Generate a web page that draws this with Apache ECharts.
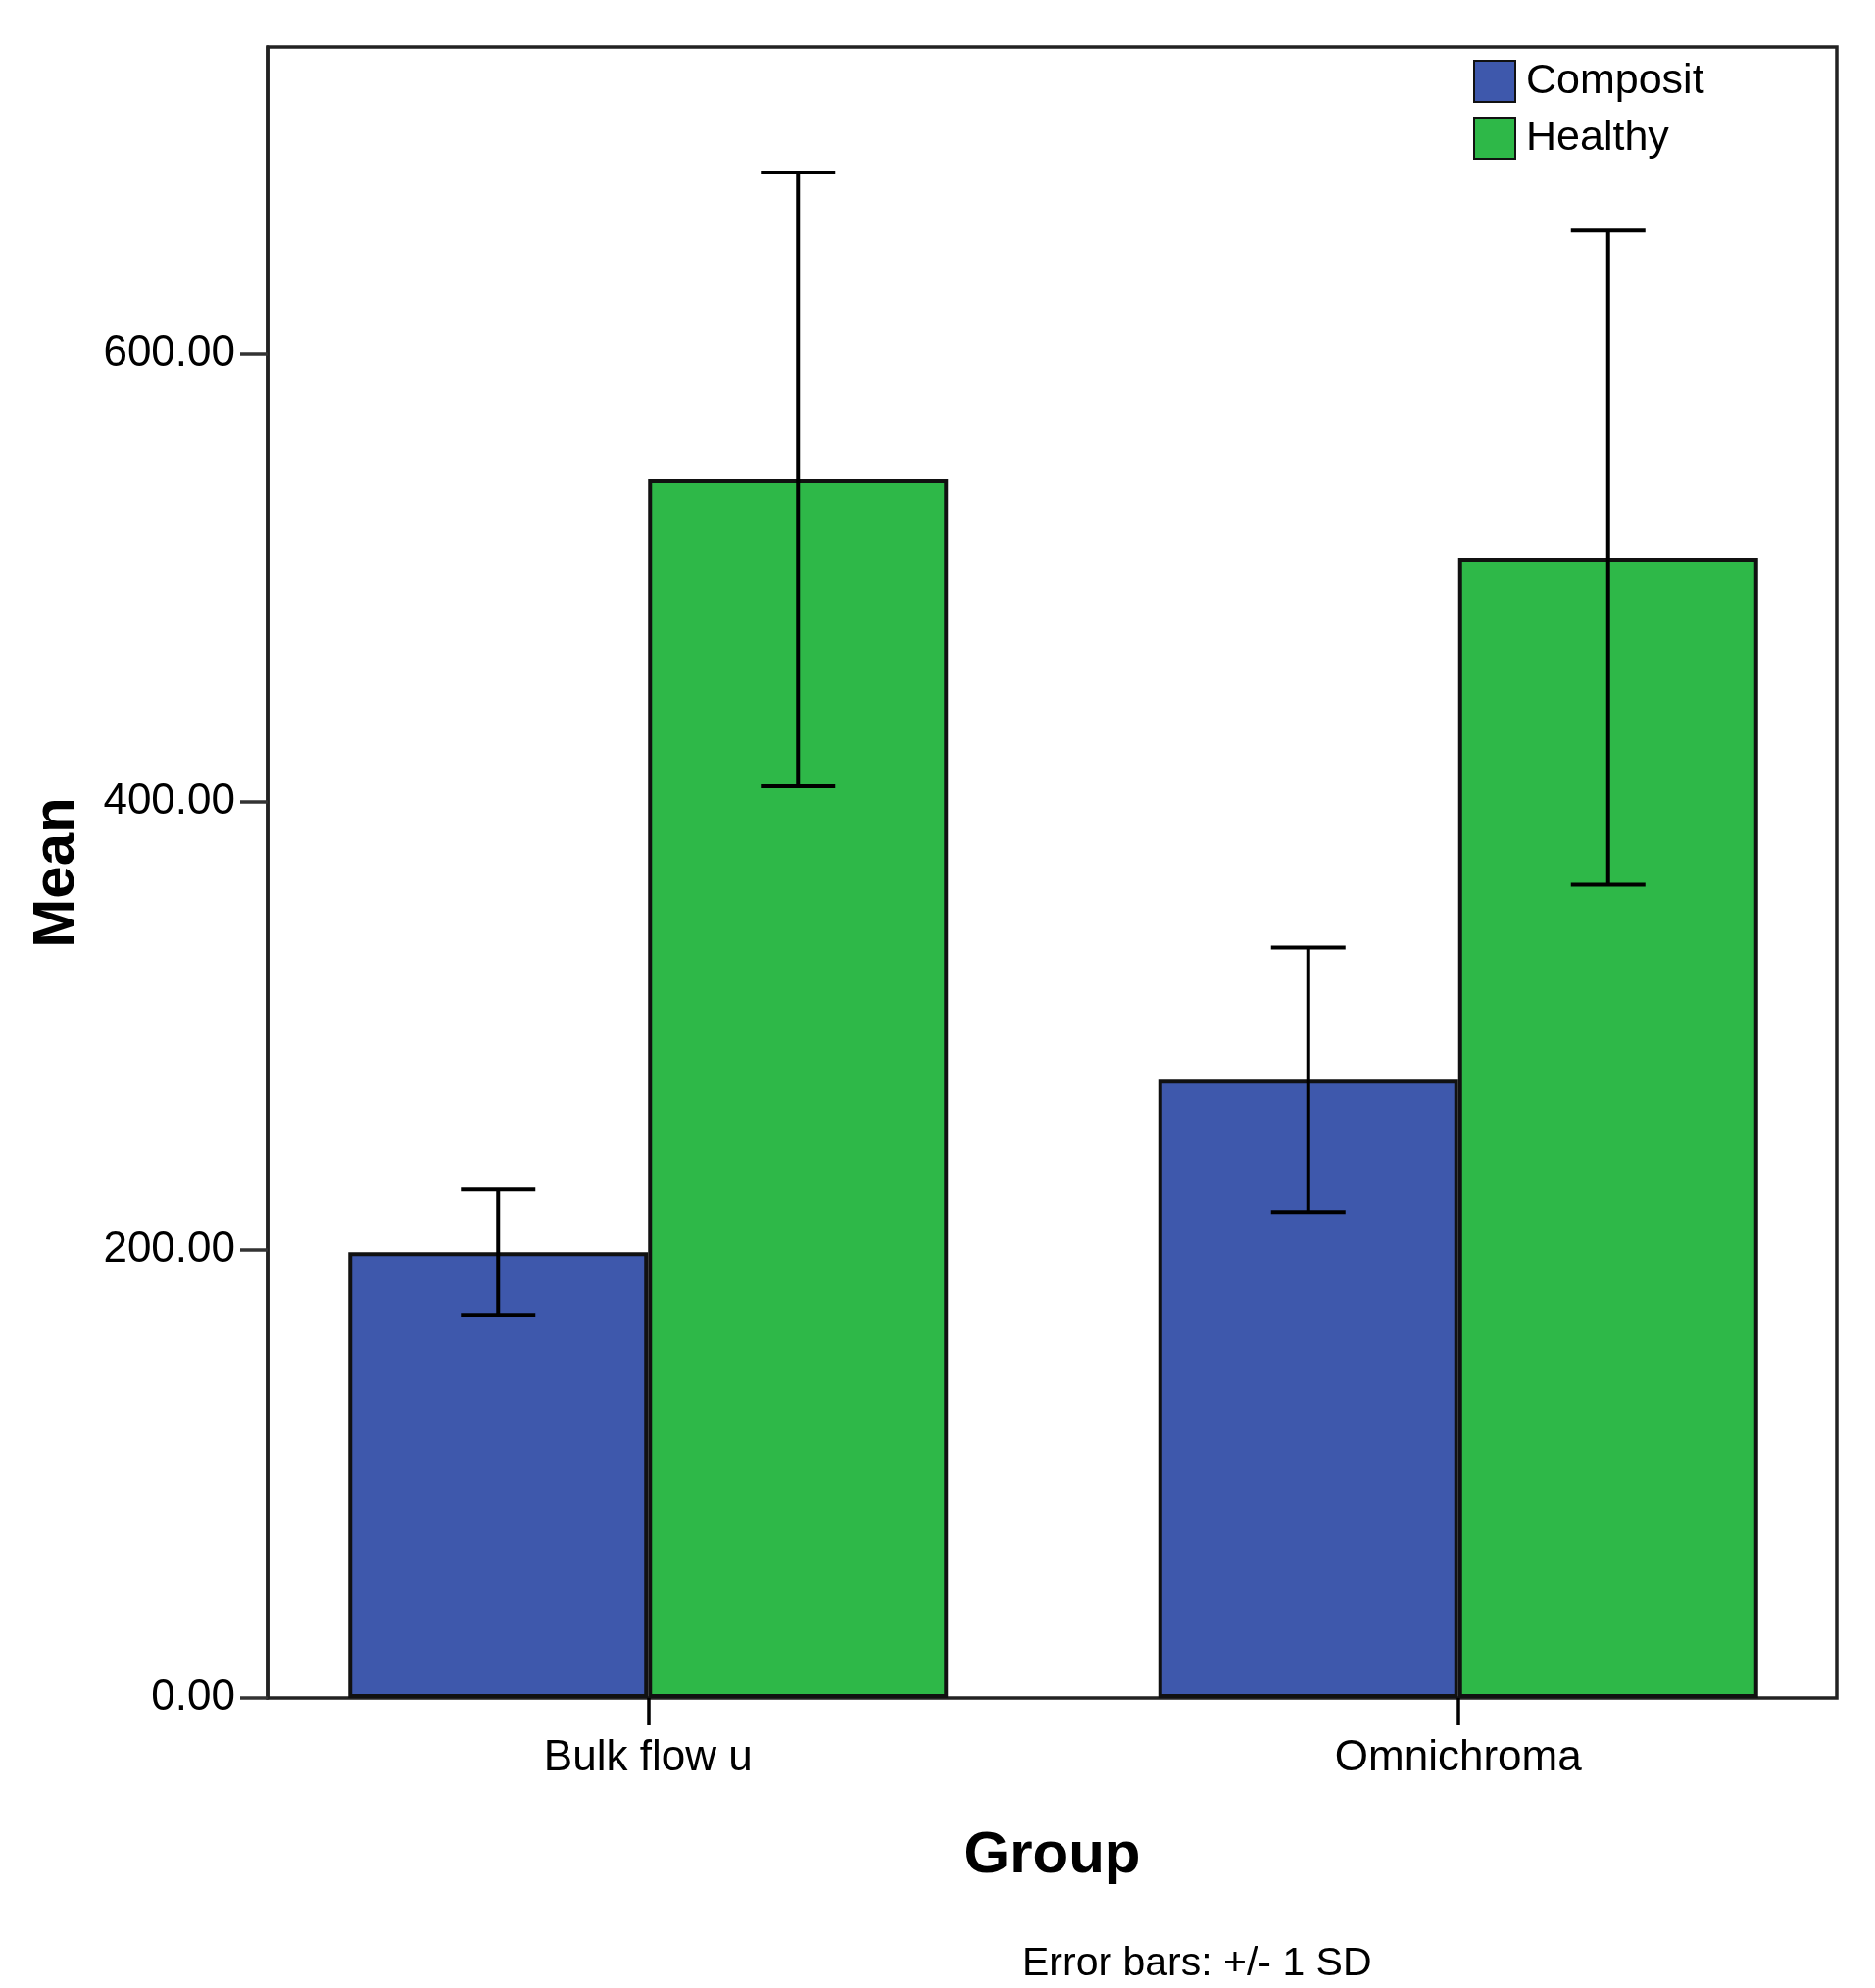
<!DOCTYPE html>
<html lang="en">
<head>
    <meta charset="UTF-8">
    <title>Mean by Group</title>
    <script src="https://cdn.jsdelivr.net/npm/echarts@6/dist/echarts.min.js"></script>
    <style>
        html, body { margin: 0; padding: 0; background: #fff; }
    </style>
</head>
<body>
    <div id="chart" style="width: 1913px; height: 2028px;"></div>
</body>
</html>
<script type="text/javascript">
    // data
    var groups = ['Bulk flow u', 'Omnichroma'];
    var compositMean = [199, 276];
    var compositSd = [28, 59];
    var healthyMean = [544, 509];
    var healthySd = [137, 146];
    var yTicks = [0, 200, 400, 600];
    var yMax = 737;

    var font = 'Liberation Sans, Arial, sans-serif';
    var barW = 306;

    function errData(mean, sd) {
        var out = [];
        for (var i = 0; i < mean.length; i++) {
            out.push([i, mean[i] - sd[i], mean[i] + sd[i]]);
        }
        return out;
    }

    // whisker with caps, shifted to sit on its bar
    function errRender(shift) {
        return function (params, api) {
            var c = api.value(0);
            var lo = api.coord([c, api.value(1)]);
            var hi = api.coord([c, api.value(2)]);
            var x = lo[0] + shift;
            var half = 38;
            var st = { stroke: '#000', lineWidth: 4 };
            return {
                type: 'group',
                children: [
                    { type: 'line', shape: { x1: x, y1: lo[1], x2: x, y2: hi[1] }, style: st },
                    { type: 'line', shape: { x1: x - half, y1: lo[1], x2: x + half, y2: lo[1] }, style: st },
                    { type: 'line', shape: { x1: x - half, y1: hi[1], x2: x + half, y2: hi[1] }, style: st }
                ]
            };
        };
    }

    var myChart = echarts.init(document.getElementById('chart'));

    var option = {
        backgroundColor: '#fff',
        animation: false,
        textStyle: { fontFamily: font, color: '#000' },
        title: {
            text: 'Error bars: +/- 1 SD',
            left: 1043,
            top: 1983,
            padding: 0,
            textStyle: { fontFamily: font, fontSize: 41, fontWeight: 'normal', color: '#000' }
        },
        legend: {
            data: ['Composit', 'Healthy'],
            orient: 'vertical',
            left: 1503,
            top: 61,
            padding: 0,
            itemWidth: 42,
            itemHeight: 42,
            itemGap: 14,
            icon: 'rect',
            selectedMode: false,
            textStyle: { fontFamily: font, fontSize: 43, color: '#000', padding: [16, 0, 0, 6] }
        },
        // grid 0 is the framed plot box, grid 1 carries the bars (SPSS spaces categories a bit wider)
        grid: [
            { left: 273, right: 39, top: 48, bottom: 296, show: true, borderColor: '#222', borderWidth: 3.5 },
            { left: 248, right: 12, top: 48, bottom: 296 }
        ],
        xAxis: [
            {
                gridIndex: 0,
                type: 'category',
                data: groups,
                name: 'Group',
                nameLocation: 'middle',
                nameGap: 131,
                nameTextStyle: { fontFamily: font, fontSize: 60, fontWeight: 'bold', color: '#000' },
                axisLine: { show: false },
                axisTick: { show: false },
                axisLabel: { show: false },
                splitLine: { show: false }
            },
            {
                gridIndex: 1,
                type: 'category',
                data: groups,
                axisLine: { show: false },
                axisTick: { show: true, alignWithLabel: true, length: 28, lineStyle: { color: '#000', width: 3.5 } },
                axisLabel: { fontFamily: font, fontSize: 44, color: '#000', margin: 40 },
                splitLine: { show: false }
            }
        ],
        yAxis: [
            {
                gridIndex: 0,
                type: 'value',
                min: 0,
                max: yMax,
                interval: 200,
                name: 'Mean',
                nameLocation: 'middle',
                nameRotate: 90,
                nameGap: 185,
                nameTextStyle: { fontFamily: font, fontSize: 60, fontWeight: 'bold', color: '#000' },
                axisLine: { show: true, lineStyle: { color: '#222', width: 3.5 } },
                axisTick: { show: true, length: 28, lineStyle: { color: '#333', width: 3.5 } },
                axisLabel: {
                    fontFamily: font,
                    fontSize: 44,
                    color: '#000',
                    margin: 33,
                    showMaxLabel: false,
                    formatter: function (v) {
                        return yTicks.indexOf(v) >= 0 ? v.toFixed(2) : '';
                    }
                },
                splitLine: { show: false }
            },
            {
                gridIndex: 1,
                type: 'value',
                min: 0,
                max: yMax,
                show: false
            }
        ],
        series: [
            {
                name: 'Composit',
                type: 'bar',
                xAxisIndex: 1,
                yAxisIndex: 1,
                data: compositMean,
                barWidth: barW,
                barGap: '0%',
                itemStyle: { color: '#3E58AC', borderColor: '#111', borderWidth: 4 }
            },
            {
                name: 'Healthy',
                type: 'bar',
                xAxisIndex: 1,
                yAxisIndex: 1,
                data: healthyMean,
                barWidth: barW,
                barGap: '0%',
                itemStyle: { color: '#2EB848', borderColor: '#111', borderWidth: 4 }
            },
            {
                name: 'Composit SD',
                type: 'custom',
                xAxisIndex: 1,
                yAxisIndex: 1,
                z: 5,
                data: errData(compositMean, compositSd),
                renderItem: errRender(-barW / 2)
            },
            {
                name: 'Healthy SD',
                type: 'custom',
                xAxisIndex: 1,
                yAxisIndex: 1,
                z: 5,
                data: errData(healthyMean, healthySd),
                renderItem: errRender(barW / 2)
            }
        ]
    };

    myChart.setOption(option);
</script>
